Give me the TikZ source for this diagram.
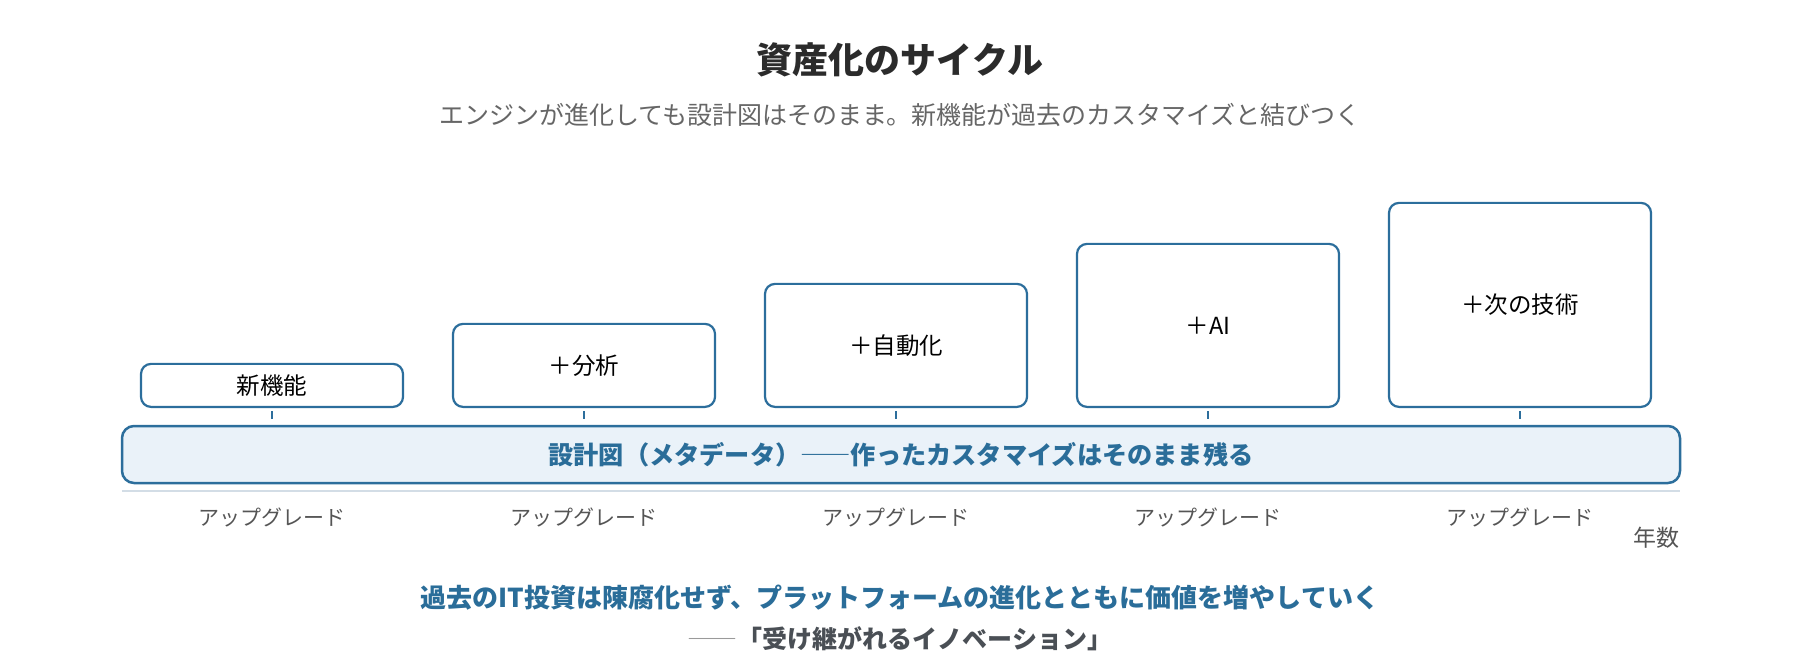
\documentclass[tikz,border=0pt]{standalone}
\usepackage{fontspec}
\setmainfont{Noto Sans CJK JP}
\definecolor{boxblue}{HTML}{2C6E9C}
\definecolor{textblue}{HTML}{2A6D99}
\definecolor{bandfill}{HTML}{EAF2F9}
\definecolor{axisgray}{HTML}{D3DDE6}
\definecolor{titlegray}{HTML}{2B2B2B}
\definecolor{subgray}{HTML}{666666}
\definecolor{labelgray}{HTML}{555555}
\definecolor{quotegray}{HTML}{4A4F55}
\definecolor{dashgray}{HTML}{9A9A9A}
\tikzset{
  featbox/.style={draw=boxblue, line width=2.2pt, rounded corners=10pt, fill=white,
    minimum width=262pt, anchor=south, inner sep=0pt, font=\fontsize{23.5}{28}\selectfont, text=black},
  tickline/.style={draw=boxblue, line width=1.6pt},
  uplabel/.style={font=\fontsize{21}{24}\selectfont, text=labelgray, inner sep=0pt},
}
\begin{document}
\begin{tikzpicture}[x=1pt,y=-1pt]
\useasboundingbox (0,0) rectangle (1800,660);
\node[font=\fontsize{36}{40}\selectfont\bfseries, text=titlegray] (title) at (900,60) {資産化のサイクル};
\node[font=\fontsize{25}{28}\selectfont, text=subgray] (sub) at (900,115) {エンジンが進化しても設計図はそのまま。新機能が過去のカスタマイズと結びつく};

\node[draw=boxblue, line width=2.5pt, rounded corners=12pt, fill=bandfill, minimum width=1558pt, minimum height=57pt, inner sep=0pt,
  font=\fontsize{25.2}{28}\selectfont\bfseries, text=textblue] (band) at (901,454.5) {設計図（メタデータ）{\mdseries ――}作ったカスタマイズはそのまま残る};

\node[featbox, minimum height=43pt] (b1) at (272,408) {新機能};
\node[featbox, minimum height=83pt] (b2) at (584,408) {＋分析};
\node[featbox, minimum height=123pt] (b3) at (896,408) {＋自動化};
\node[featbox, minimum height=163pt] (b4) at (1208,408) {＋AI};
\node[featbox, minimum height=204pt] (b5) at (1520,408) {＋次の技術};

\foreach \b in {b1,b2,b3,b4,b5}{
  \draw[tickline, shorten <=3pt, shorten >=6pt] (\b.south) -- (\b.south |- band.north);
}

\coordinate (axl) at (122,491);
\coordinate (axr) at (1680,491);
\draw[axisgray, line width=2pt] (axl) -- (axr);

\node[uplabel] (u1) at (272,517) {アップグレード};
\node[uplabel] (u2) at (584,517) {アップグレード};
\node[uplabel] (u3) at (896,517) {アップグレード};
\node[uplabel] (u4) at (1208,517) {アップグレード};
\node[uplabel] (u5) at (1520,517) {アップグレード};
\node[font=\fontsize{23}{26}\selectfont, text=labelgray, anchor=east, inner sep=0pt] (year) at (1680,538) {年数};

\node[font=\fontsize{26}{30}\selectfont\bfseries, text=textblue] (msg) at (900,598) {過去のIT投資は陳腐化せず、プラットフォームの進化とともに価値を増やしていく};
\node[font=\fontsize{25}{28}\selectfont\bfseries, text=quotegray] (quote) at (900,639) {{\mdseries\color{dashgray}――}「受け継がれるイノベーション」};
\end{tikzpicture}
\end{document}
